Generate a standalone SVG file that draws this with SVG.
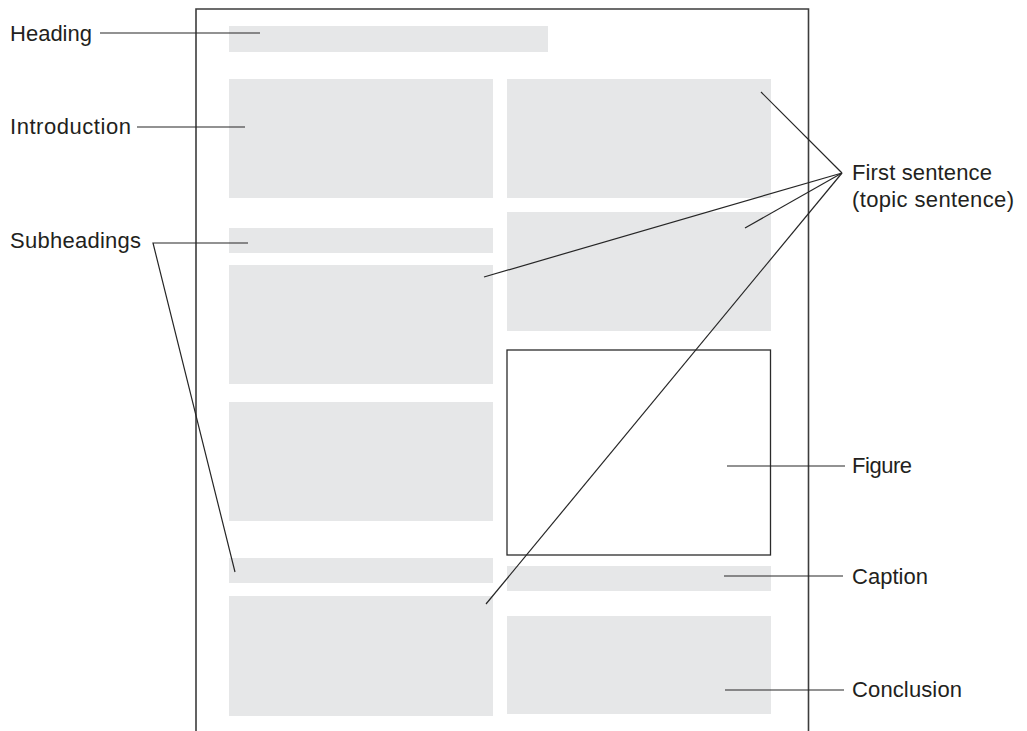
<svg xmlns="http://www.w3.org/2000/svg" width="1027" height="731" viewBox="0 0 1027 731">
<style>
.blk{fill:#e6e7e8}
.page{fill:none;stroke:#3d3d3d;stroke-width:1.6}
.fig{fill:none;stroke:#2b2b2b;stroke-width:1.3}
.ln{fill:none;stroke:#262626;stroke-width:1.2}
.lbl{font-family:"Liberation Sans",Arial,sans-serif;font-size:22px;fill:#231f20}
</style>
<rect width="1027" height="731" fill="#ffffff"/>
<g id="page">
<path class="page" d="M196,731 V9 H808.5 V731"/>
</g>
<g id="heading-block"><rect class="blk" x="229" y="26" width="319" height="26"/></g>
<g id="intro-block"><rect class="blk" x="229" y="79" width="264" height="119"/></g>
<g id="right-para-1"><rect class="blk" x="507" y="79" width="264" height="119"/></g>
<g id="subheading-1"><rect class="blk" x="229" y="228" width="264" height="25"/></g>
<g id="left-para-1"><rect class="blk" x="229" y="265" width="264" height="119"/></g>
<g id="right-para-2"><rect class="blk" x="507" y="212" width="264" height="119"/></g>
<g id="left-para-2"><rect class="blk" x="229" y="402" width="264" height="119"/></g>
<g id="figure-box"><rect class="fig" x="507" y="350" width="263.5" height="205"/></g>
<g id="subheading-2"><rect class="blk" x="229" y="558" width="264" height="25"/></g>
<g id="left-para-3"><rect class="blk" x="229" y="596" width="264" height="120"/></g>
<g id="caption-block"><rect class="blk" x="507" y="566" width="264" height="25"/></g>
<g id="conclusion-block"><rect class="blk" x="507" y="616" width="264" height="98"/></g>
<g id="connectors">
<line class="ln" x1="100" y1="33" x2="260" y2="33"/>
<line class="ln" x1="137" y1="127" x2="245" y2="127"/>
<polyline class="ln" points="248,243 153,243 235,572"/>
<line class="ln" x1="842" y1="173" x2="761" y2="92"/>
<line class="ln" x1="842" y1="173" x2="745" y2="228"/>
<line class="ln" x1="842" y1="173" x2="484" y2="277"/>
<line class="ln" x1="842" y1="173" x2="486" y2="604"/>
<line class="ln" x1="727" y1="466" x2="845" y2="466"/>
<line class="ln" x1="724" y1="576" x2="843" y2="576"/>
<line class="ln" x1="725" y1="690" x2="844" y2="690"/>
</g>
<g id="label-heading"><text class="lbl" x="10" y="41" textLength="82" lengthAdjust="spacing">Heading</text></g>
<g id="label-introduction"><text class="lbl" x="10" y="134" textLength="121" lengthAdjust="spacing">Introduction</text></g>
<g id="label-subheadings"><text class="lbl" x="10" y="248" textLength="131" lengthAdjust="spacing">Subheadings</text></g>
<g id="label-first-sentence"><text class="lbl" x="852" y="180" textLength="140" lengthAdjust="spacing">First sentence</text><text class="lbl" x="852" y="207" textLength="162" lengthAdjust="spacing">(topic sentence)</text></g>
<g id="label-figure"><text class="lbl" x="852" y="473" textLength="60" lengthAdjust="spacing">Figure</text></g>
<g id="label-caption"><text class="lbl" x="852" y="584" textLength="76" lengthAdjust="spacing">Caption</text></g>
<g id="label-conclusion"><text class="lbl" x="852" y="697" textLength="110" lengthAdjust="spacing">Conclusion</text></g>
</svg>
